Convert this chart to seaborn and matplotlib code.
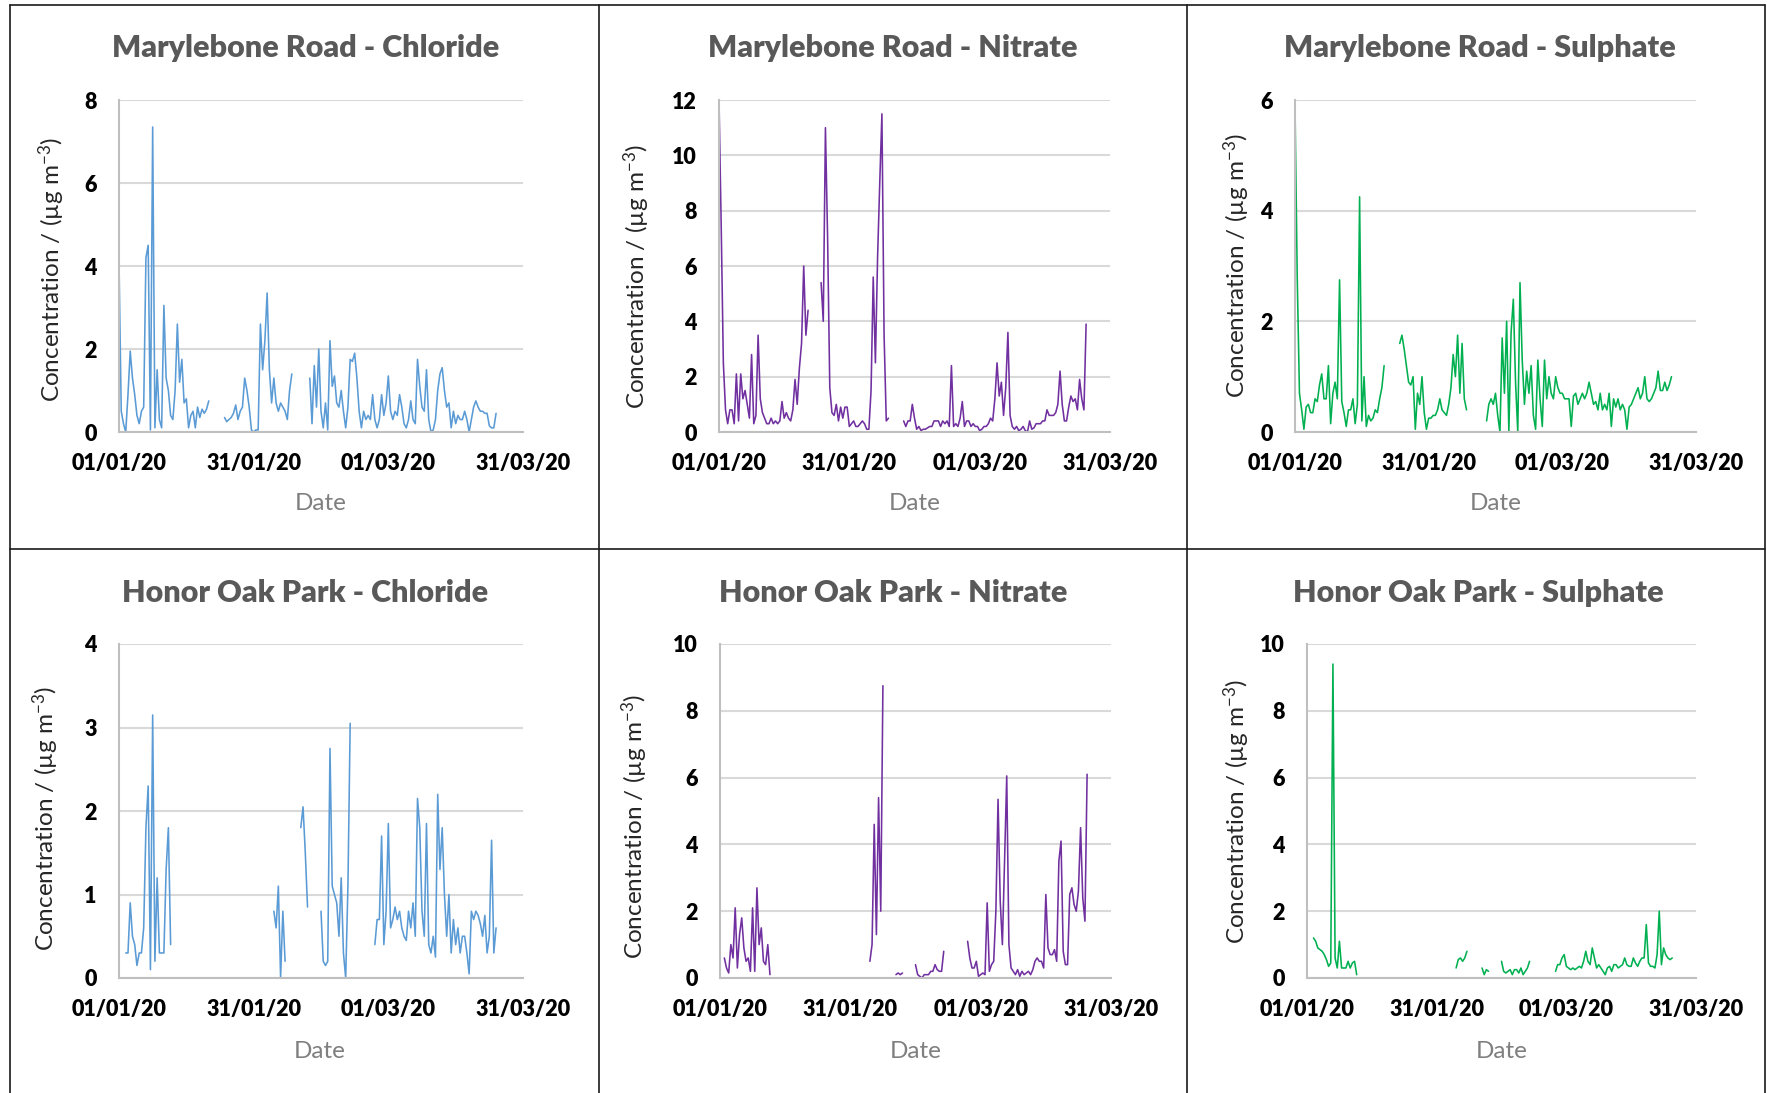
import pandas as pd
import matplotlib
matplotlib.use("Agg")
import matplotlib.pyplot as plt
from matplotlib.lines import Line2D
import seaborn as sns

# Half-day samples starting 01/01/20 00:00; None = no measurement
start_date = "2020-01-01"
step_days = 0.5

mr_chloride = ([4.1, 0.5, 0.2, 0.0, 0.9, 1.95, 1.3, 0.9, 0.4, 0.2,
                0.5, 0.6, 4.2, 4.5, 0.05, 7.35, 0.1, 1.5, 0.3, 0.1,
                3.05, 1.3, 1.0, 0.4, 0.3, 1.0, 2.6, 1.2, 1.75, 0.7,
                0.8, 0.1, 0.4, 0.5, 0.1, 0.6, 0.35, 0.55, 0.45, 0.55, 0.75]
               + [None] * 6
               + [0.35, 0.25, 0.3, 0.35, 0.45, 0.65, 0.3, 0.5, 0.6, 1.3,
                  1.0, 0.6, 0.05, 0.0, 0.05, 0.05, 2.6, 1.5, 2.2, 3.35,
                  1.5, 0.7, 1.3, 0.7, 0.5, 0.7, 0.6, 0.5, 0.3, 1.0, 1.4]
               + [None] * 7
               + [1.3, 0.2, 1.6, 0.6, 2.0, 0.5, 0.1, 0.7, 0.05, 2.2,
                  1.1, 1.35, 0.7, 0.6, 1.0, 0.5, 0.1, 0.6, 1.75, 1.7,
                  1.9, 1.3, 0.5, 0.1, 0.5, 0.3, 0.4, 0.3, 0.9, 0.3,
                  0.1, 0.3, 0.9, 0.4, 0.7, 1.35, 0.5, 0.3, 0.5, 0.4,
                  0.9, 0.6, 0.2, 0.1, 0.3, 0.75, 0.3, 0.2, 1.75, 1.1,
                  0.6, 0.5, 1.5, 0.3, 0.0, 0.05, 0.3, 1.0, 1.4, 1.55,
                  1.0, 0.6, 0.7, 0.1, 0.5, 0.2, 0.4, 0.3, 0.3, 0.5,
                  0.3, 0.0, 0.3, 0.6, 0.75, 0.6, 0.5, 0.5, 0.45, 0.45,
                  0.15, 0.1, 0.1, 0.45])

mr_nitrate = ([12.0, 7.5, 2.5, 0.8, 0.3, 0.8, 0.8, 0.3, 2.1, 0.4,
               2.1, 1.2, 1.5, 1.0, 0.5, 2.8, 0.3, 0.6, 3.5, 1.2,
               0.7, 0.5, 0.3, 0.3, 0.5, 0.3, 0.4, 0.3, 0.4, 1.1,
               0.5, 0.7, 0.5, 0.4, 0.8, 1.9, 1.0, 2.3, 3.2, 6.0, 3.5, 4.4]
              + [None] * 5
              + [5.4, 4.0, 11.0, 7.0, 1.6, 0.7, 0.6, 1.0, 0.4, 0.9,
                 0.5, 0.9, 0.9, 0.2, 0.3, 0.4, 0.2, 0.2, 0.3, 0.4,
                 0.3, 0.1, 0.1, 1.5, 5.6, 2.5, 6.3, 9.0, 11.5, 3.5,
                 0.4, 0.5]
              + [None] * 6
              + [0.4, 0.2, 0.4, 0.4, 1.0, 0.5, 0.1, 0.2, 0.05, 0.1,
                 0.1, 0.15, 0.2, 0.2, 0.4, 0.4, 0.4, 0.2, 0.4, 0.3,
                 0.4, 0.2, 2.4, 0.2, 0.3, 0.2, 0.5, 1.1, 0.2, 0.4,
                 0.4, 0.2, 0.3, 0.2, 0.2, 0.05, 0.1, 0.2, 0.2, 0.3,
                 0.5, 0.4, 1.2, 2.5, 1.3, 1.8, 0.6, 1.6, 3.6, 0.6,
                 0.2, 0.1, 0.2, 0.05, 0.1, 0.2, 0.05, 0.0, 0.4, 0.1,
                 0.15, 0.3, 0.3, 0.3, 0.4, 0.4, 0.8, 0.6, 0.6, 0.6,
                 0.7, 1.0, 2.2, 1.0, 0.4, 0.4, 0.9, 1.3, 1.1, 1.2,
                 0.8, 1.9, 1.2, 0.8, 3.9])

mr_sulphate = ([5.9, 2.8, 0.7, 0.4, 0.05, 0.45, 0.5, 0.35, 0.35, 0.6,
                0.55, 0.85, 1.05, 0.6, 0.6, 1.2, 0.15, 0.7, 0.9, 0.6,
                2.75, 0.55, 0.35, 0.1, 0.4, 0.4, 0.6, 0.15, 0.5, 4.25,
                0.2, 1.0, 0.1, 0.3, 0.2, 0.25, 0.4, 0.35, 0.6, 0.8, 1.2]
               + [None] * 6
               + [1.6, 1.75, 1.5, 1.2, 0.9, 0.85, 1.0, 0.05, 0.7, 0.5,
                  1.0, 0.35, 0.05, 0.25, 0.25, 0.3, 0.3, 0.4, 0.6, 0.4,
                  0.35, 0.3, 0.5, 0.8, 1.4, 1.0, 1.75, 0.7, 1.6, 0.6, 0.4]
               + [None] * 8
               + [0.2, 0.5, 0.6, 0.5, 0.7, 0.3, 0.0, 1.7, 0.7, 2.0,
                  0.0, 1.8, 2.4, 0.9, 0.0, 2.7, 1.3, 0.5, 1.1, 0.7,
                  1.2, 0.3, 0.05, 1.3, 0.6, 0.1, 1.3, 0.6, 1.0, 0.7,
                  0.6, 1.0, 0.8, 0.7, 0.7, 0.6, 0.6, 0.6, 0.1, 0.65,
                  0.7, 0.5, 0.6, 0.7, 0.6, 0.7, 0.9, 0.7, 0.5, 0.55,
                  0.4, 0.7, 0.4, 0.5, 0.4, 0.7, 0.1, 0.6, 0.45, 0.6,
                  0.4, 0.5, 0.4, 0.05, 0.45, 0.5, 0.6, 0.7, 0.8, 0.6,
                  0.7, 1.0, 0.6, 0.55, 0.6, 0.7, 0.8, 1.1, 0.75, 0.75,
                  0.9, 0.75, 0.85, 1.0])

ho_chloride = ([None] * 3
               + [0.3, 0.3, 0.9, 0.5, 0.4, 0.15, 0.3, 0.3, 0.6, 1.8,
                  2.3, 0.1, 3.15, 0.2, 1.2, 0.3, 0.3, 0.3, 1.3, 1.8, 0.4]
               + [None] * 45
               + [0.8, 0.6, 1.1, 0.0, 0.8, 0.2]
               + [None] * 6
               + [1.8, 2.05, 1.5, 0.85]
               + [None] * 5
               + [0.8, 0.2, 0.15, 0.2, 2.75, 1.1, 1.0, 0.9, 0.5, 1.2,
                  0.3, 0.0, 1.1, 3.05]
               + [None] * 10
               + [0.4, 0.7, 0.7, 1.7, 0.4, 0.8, 1.85, 0.6, 0.7, 0.85,
                  0.7, 0.8, 0.6, 0.5, 0.45, 0.8, 0.6, 0.9, 0.5, 2.15,
                  1.8, 0.8, 0.5, 1.85, 0.4, 0.3, 0.5, 0.25, 2.2, 1.3,
                  1.8, 1.0, 0.5, 1.0, 0.3, 0.7, 0.4, 0.6, 0.3, 0.5,
                  0.5, 0.3, 0.05, 0.8, 0.7, 0.8, 0.75, 0.65, 0.5, 0.75,
                  0.3, 0.5, 1.65, 0.3, 0.6])

ho_nitrate = ([None] * 2
              + [0.6, 0.3, 0.15, 1.0, 0.6, 2.1, 0.3, 1.3, 1.8, 0.9,
                 0.5, 0.6, 0.2, 2.1, 0.2, 2.7, 1.0, 1.5, 0.5, 0.4,
                 1.0, 0.1]
              + [None] * 45
              + [0.5, 1.0, 4.6, 1.3, 5.4, 2.0, 8.75]
              + [None] * 5
              + [0.1, 0.15, 0.1, 0.15]
              + [None] * 5
              + [0.4, 0.1, 0.05, 0.0, 0.1, 0.1, 0.1, 0.2, 0.2, 0.4,
                 0.25, 0.2, 0.2, 0.8]
              + [None] * 10
              + [1.1, 0.6, 0.3, 0.3, 0.5, 0.05, 0.1, 0.15, 0.1, 2.25,
                 0.2, 0.4, 0.5, 2.0, 5.35, 2.3, 1.0, 3.5, 6.05, 1.0,
                 0.3, 0.2, 0.1, 0.25, 0.05, 0.2, 0.1, 0.15, 0.2, 0.1,
                 0.25, 0.5, 0.6, 0.5, 0.5, 0.3, 2.5, 0.9, 0.7, 0.7,
                 0.85, 0.5, 3.5, 4.1, 0.8, 0.4, 0.4, 2.5, 2.7, 2.2,
                 2.0, 2.6, 4.5, 2.4, 1.7, 6.1])

ho_sulphate = ([None] * 3
               + [1.2, 1.1, 0.9, 0.85, 0.8, 0.7, 0.55, 0.35, 0.45, 9.4,
                  0.6, 0.3, 1.1, 0.3, 0.3, 0.3, 0.5, 0.3, 0.45, 0.5, 0.1]
               + [None] * 45
               + [0.3, 0.55, 0.6, 0.5, 0.6, 0.8]
               + [None] * 6
               + [0.3, 0.1, 0.25, 0.2]
               + [None] * 5
               + [0.5, 0.2, 0.15, 0.2, 0.25, 0.1, 0.25, 0.25, 0.15, 0.3,
                  0.1, 0.2, 0.3, 0.5]
               + [None] * 11
               + [0.2, 0.4, 0.4, 0.6, 0.7, 0.35, 0.3, 0.25, 0.3, 0.25,
                  0.3, 0.35, 0.3, 0.5, 0.8, 0.5, 0.4, 0.9, 0.6, 0.3,
                  0.4, 0.3, 0.2, 0.1, 0.3, 0.35, 0.2, 0.4, 0.4, 0.3,
                  0.35, 0.4, 0.6, 0.4, 0.35, 0.35, 0.6, 0.45, 0.35, 0.5,
                  0.6, 0.6, 1.6, 0.45, 0.35, 0.35, 0.3, 0.7, 2.0, 0.4,
                  0.9, 0.7, 0.6, 0.55, 0.6])

x_ticks = ["2020-01-01", "2020-01-31", "2020-03-01", "2020-03-31"]
x_tick_labels = ["01/01/20", "31/01/20", "01/03/20", "31/03/20"]

BLUE, PURPLE, GREEN = "#5B9BD5", "#7030A0", "#00B050"

# title, data, colour, y max, y step
panels = [
    ("Marylebone Road - Chloride", mr_chloride, BLUE, 8, 2),
    ("Marylebone Road - Nitrate", mr_nitrate, PURPLE, 12, 2),
    ("Marylebone Road - Sulphate", mr_sulphate, GREEN, 6, 2),
    ("Honor Oak Park - Chloride", ho_chloride, BLUE, 4, 1),
    ("Honor Oak Park - Nitrate", ho_nitrate, PURPLE, 10, 2),
    ("Honor Oak Park - Sulphate", ho_sulphate, GREEN, 10, 2),
]

# layout in pixels: axes (left, right, top, bottom), title centre, ylabel centre, "Date" centre
layout = [
    ((119, 523, 100, 432), (306, 48), (52, 269), (321, 504)),
    ((719, 1110, 100, 432), (893, 48), (637, 276), (915, 504)),
    ((1295, 1696, 100, 432), (1480, 48), (1237, 265), (1496, 504)),
    ((119, 523, 644, 978), (305, 593), (46, 818), (320, 1052)),
    ((720, 1111, 644, 978), (893, 593), (635, 826), (916, 1052)),
    ((1307, 1696, 644, 978), (1478, 593), (1237, 811), (1502, 1052)),
]

sns.set_theme(style="white")
plt.rcParams["font.family"] = ["Lato", "DejaVu Sans"]
plt.rcParams["mathtext.fontset"] = "custom"
plt.rcParams["mathtext.rm"] = "Lato"
plt.rcParams["mathtext.default"] = "regular"

W, H = 1767, 1093
fig = plt.figure(figsize=(W / 100, H / 100), dpi=100)
fig.patch.set_facecolor("white")


def to_frame(values):
    s = pd.Series(values, dtype=float)
    dates = pd.Timestamp(start_date) + pd.to_timedelta(s.index * step_days, unit="D")
    df = pd.DataFrame({"Date": dates, "Conc": s.values, "seg": s.isna().cumsum().values})
    return df.dropna()


tick_dates = pd.to_datetime(x_ticks)
for (title, values, color, ymax, ystep), (box, tpos, ypos, dpos) in zip(panels, layout):
    l, r, t, b = box
    ax = fig.add_axes([l / W, 1 - b / H, (r - l) / W, (b - t) / H])
    df = to_frame(values)
    sns.lineplot(data=df, x="Date", y="Conc", units="seg", estimator=None,
                 color=color, linewidth=1.15, ax=ax, legend=False)
    ax.set_xlim(tick_dates[0], tick_dates[-1])
    ax.set_ylim(0, ymax)
    ax.tick_params(axis="both", length=5, width=1.5, color="#bfbfbf", labelcolor="black")
    ax.tick_params(axis="x", pad=10)
    ax.tick_params(axis="y", pad=11)
    ax.set_xticks(tick_dates)
    ax.set_xticklabels(x_tick_labels)
    yt = list(range(0, ymax + 1, ystep))
    ax.set_yticks(yt)
    ax.set_yticklabels([str(v) for v in yt])
    for lbl in ax.get_xticklabels() + ax.get_yticklabels():
        lbl.set_fontweight("heavy")
        lbl.set_fontsize(15.5)
    ax.set_xlabel("")
    ax.set_ylabel("")
    ax.yaxis.grid(True, color="#d9d9d9", linewidth=1.5)
    ax.xaxis.grid(False)
    ax.set_axisbelow(True)
    for side in ("top", "right"):
        ax.spines[side].set_visible(False)
    for side in ("left", "bottom"):
        ax.spines[side].set_color("#bfbfbf")
        ax.spines[side].set_linewidth(1.5)
    ax.set_facecolor("white")

    fig.text(tpos[0] / W, 1 - tpos[1] / H, title, ha="center", va="center",
             fontsize=22, fontweight="heavy", color="#595959")
    fig.text(ypos[0] / W, 1 - ypos[1] / H, "Concentration / (µg m$^{-3}$)",
             rotation=90, ha="center", va="center", fontsize=17.5, color="#262626")
    fig.text(dpos[0] / W, 1 - dpos[1] / H, "Date", ha="center", va="center",
             fontsize=17.5, color="#7f7f7f")

# table borders around the six charts
border = dict(color="#1a1a1a", linewidth=1.2, transform=fig.transFigure)
for x in (10, 598.5, 1187, 1765):
    fig.add_artist(Line2D([x / W, x / W], [1 - 5 / H, 0], **border))
for y in (5, 549):
    fig.add_artist(Line2D([10 / W, 1765 / W], [1 - y / H, 1 - y / H], **border))

fig.savefig("out.png", dpi=100, facecolor="white")
